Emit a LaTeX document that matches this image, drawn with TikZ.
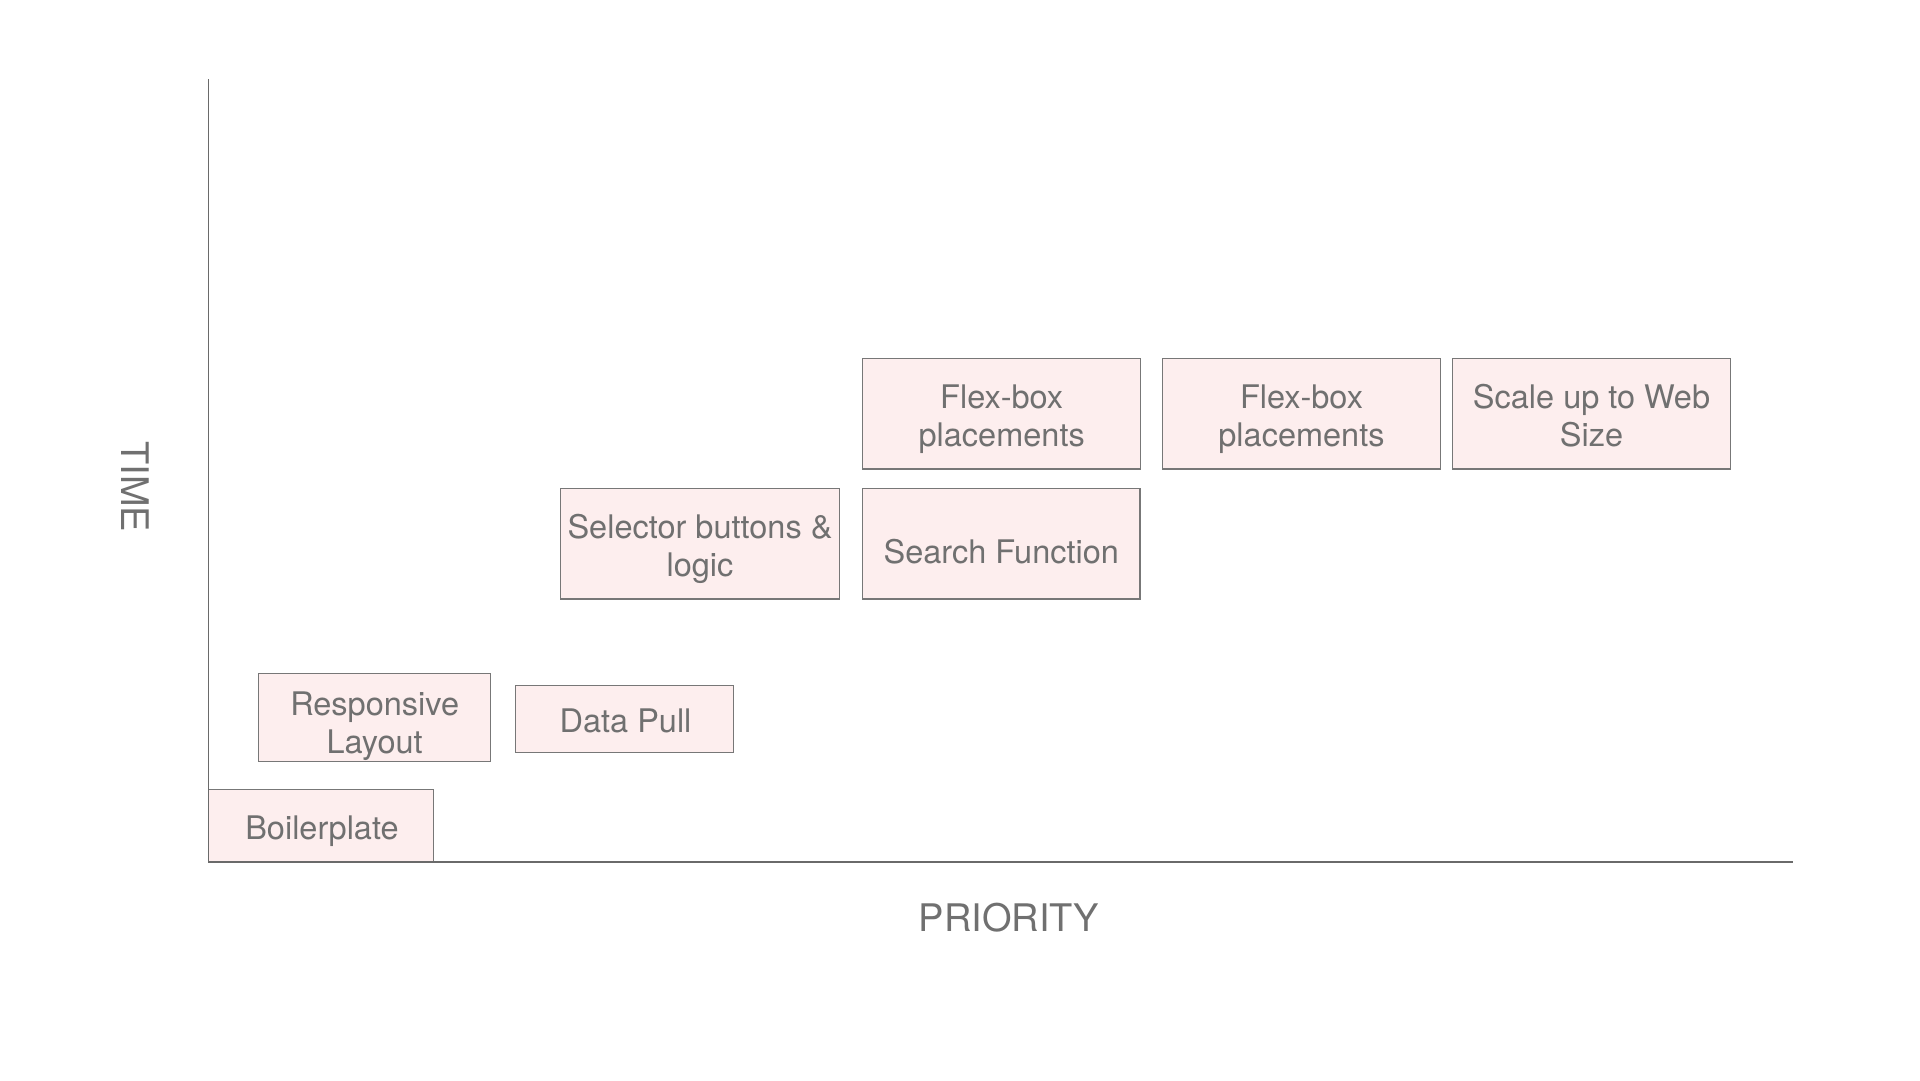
\documentclass[tikz,border=0pt]{standalone}
\usepackage{fontspec}
\setmainfont{TeX Gyre Heros}
\definecolor{boxfill}{HTML}{FDEEEE}
\definecolor{boxdraw}{HTML}{777777}
\definecolor{txtcol}{HTML}{707070}
\definecolor{axiscol}{HTML}{6A6A6A}
\tikzset{
  taskbox/.style={draw=boxdraw, fill=boxfill, line width=1.2pt, inner sep=0pt, outer sep=0pt, rectangle},
  tasktext/.style={text=txtcol, align=center, inner sep=0pt, font=\fontsize{32.5}{38}\selectfont},
  axislabel/.style={text=txtcol, inner sep=0pt, font=\fontsize{38}{44}\selectfont},
  axisline/.style={draw=axiscol, line width=1.3pt}
}
\begin{document}
\begin{tikzpicture}[x=1pt, y=-1pt]
\useasboundingbox (0,0) rectangle (1920,1080);
\fill[white] (0,0) rectangle (1920,1080);

% boxes
\node[taskbox, minimum width=224.6pt, minimum height=72.4pt] (b1) at (321,825.5) {};
\node[taskbox, minimum width=232.3pt, minimum height=88pt] (b2) at (374.65,717.3) {};
\node[taskbox, minimum width=218.6pt, minimum height=67pt] (b3) at (624.5,718.8) {};
\node[taskbox, minimum width=279.4pt, minimum height=110.7pt] (b4) at (700,543.65) {};
\node[taskbox, minimum width=277.5pt, minimum height=110.7pt] (b5) at (1001.3,543.65) {};
\node[taskbox, minimum width=278pt, minimum height=110.7pt] (b6) at (1001.7,413.65) {};
\node[taskbox, minimum width=277.8pt, minimum height=110.7pt] (b7) at (1301.5,413.65) {};
\node[taskbox, minimum width=278.6pt, minimum height=110.7pt] (b8) at (1591.5,413.65) {};

% texts
\node[tasktext] (t1) at (322,831.5) {Boilerplate};
\node[tasktext] (t2) at (374.65,726.5) {Responsive\\Layout};
\node[tasktext] (t3) at (625.5,721.2) {Data Pull};
\node[tasktext] (t4) at (700,549) {Selector buttons \&\\logic};
\node[tasktext] (t5) at (1001.3,551.2) {Search Function};
\node[tasktext] (t6) at (1001.7,419) {Flex-box\\placements};
\node[tasktext] (t7) at (1301.5,419) {Flex-box\\placements};
\node[tasktext] (t8) at (1591.5,415.6) {Scale up to Web\\Size};

% axes
\coordinate (origin) at (208.5,862);
\coordinate (ytop) at (208.5,79);
\coordinate (xend) at (1793,862);
\draw[axisline] (ytop) -- (origin) -- (xend);

\node[axislabel, rotate=-90] (timelbl) at (135.5,486.7) {TIME};
\node[axislabel] (prilbl) at (1009,918) {PRIORITY};
\end{tikzpicture}
\end{document}
